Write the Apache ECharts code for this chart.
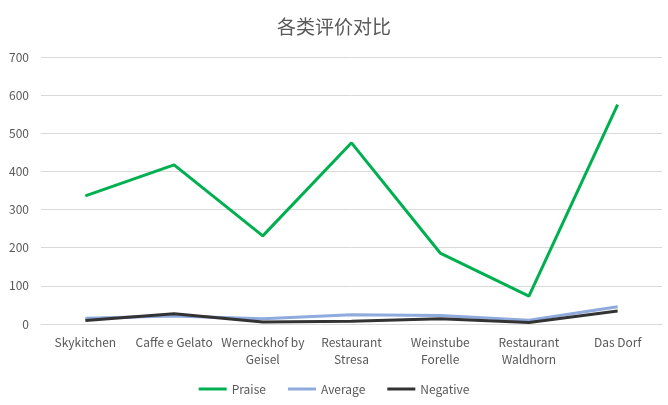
<!DOCTYPE html>
<html>
<head>
<meta charset="utf-8">
<script src="https://cdn.jsdelivr.net/npm/echarts@6/dist/echarts.min.js"></script>
<style>
  html, body { margin: 0; padding: 0; background: #fff; }
  #main { width: 668px; height: 405px; }
</style>
</head>
<body>
<div id="main"></div>
<script>
var chart = echarts.init(document.getElementById('main'));

// 数据
var categories = ['Skykitchen', 'Caffe e Gelato', 'Werneckhof by\nGeisel', 'Restaurant\nStresa', 'Weinstube\nForelle', 'Restaurant\nWaldhorn', 'Das Dorf'];
var praise = [336, 417, 231, 475, 186, 73, 575];
var average = [15, 21, 14, 24, 22, 10, 45];
var negative = [9, 27, 5, 7, 14, 4, 34];

var font = '"Microsoft YaHei", "Noto Sans CJK SC", "Liberation Sans", sans-serif';

var option = {
    animation: false,
    title: {
        text: '各类评价对比',
        left: 'center',
        top: 12,
        textStyle: { fontSize: 19, fontWeight: 'normal', color: '#595959', fontFamily: font }
    },
    legend: {
        bottom: 5,
        itemWidth: 28,
        itemHeight: 3,
        itemGap: 22,
        icon: 'rect',
        textStyle: { color: '#595959', fontSize: 12, fontFamily: font },
        data: ['Praise', 'Average', 'Negative']
    },
    grid: { left: 41, right: 6, top: 57, bottom: 81 },
    xAxis: {
        type: 'category',
        data: categories,
        axisTick: { show: false },
        axisLine: { lineStyle: { color: '#d9d9d9' } },
        axisLabel: { color: '#595959', fontSize: 12, interval: 0, margin: 10, lineHeight: 17, fontFamily: font }
    },
    yAxis: {
        type: 'value',
        min: 0,
        max: 700,
        interval: 100,
        axisLabel: { color: '#595959', fontSize: 12, margin: 12, fontFamily: font },
        splitLine: { lineStyle: { color: '#d9d9d9' } }
    },
    series: [
        {
            name: 'Praise', type: 'line', data: praise, symbol: 'none',
            lineStyle: { color: '#00b050', width: 3 }, itemStyle: { color: '#00b050' }
        },
        {
            name: 'Average', type: 'line', data: average, symbol: 'none',
            lineStyle: { color: '#8faadc', width: 3 }, itemStyle: { color: '#8faadc' }
        },
        {
            name: 'Negative', type: 'line', data: negative, symbol: 'none',
            lineStyle: { color: '#333333', width: 3 }, itemStyle: { color: '#333333' }
        }
    ]
};

chart.setOption(option);
</script>
</body>
</html>
